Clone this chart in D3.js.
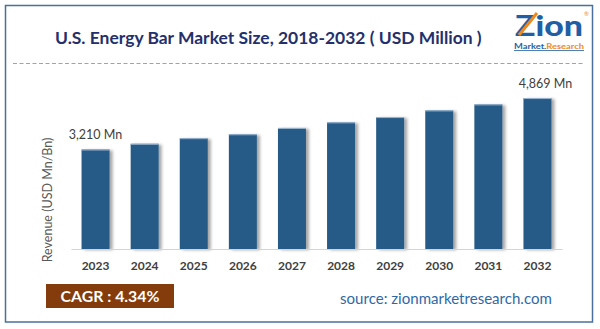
<!DOCTYPE html>
<html>
<head>
<meta charset="utf-8">
<script src="https://cdn.jsdelivr.net/npm/d3@7"></script>
<style>
  body { margin: 0; background: #fff; }
  text { font-family: Lato, "Open Sans", sans-serif; }
</style>
</head>
<body>
<svg></svg>
<script>
// market size by year, USD million
const years = ["2023", "2024", "2025", "2026", "2027", "2028", "2029", "2030", "2031", "2032"];
const revenue = [3210, 3394, 3575, 3701, 3905, 4086, 4256, 4471, 4665, 4869];
const labelled = ["2023", "2032"];

const title = "U.S. Energy Bar Market Size, 2018-2032 ( USD Million )";
const yTitle = "Revenue (USD Mn/Bn)";
const cagr = "CAGR :  4.34%";
const source = "source: zionmarketresearch.com";

var w = 600;
var h = 329;

let data = years.map((y, i) => ({ year: y, value: revenue[i] }));

let svg = d3.select("svg")
  .attr("width", w)
  .attr("height", h);

svg.append("rect")
  .attr("width", w).attr("height", h)
  .attr("fill", "#fff");

// soft shadow to the right of each bar
let defs = svg.append("defs");
let shadow = defs.append("filter")
  .attr("id", "barShadow")
  .attr("x", "-20%").attr("y", "-10%")
  .attr("width", "160%").attr("height", "130%");
shadow.append("feDropShadow")
  .attr("dx", 3).attr("dy", 1)
  .attr("stdDeviation", 1.6)
  .attr("flood-color", "#000")
  .attr("flood-opacity", 0.35);

// frame
svg.append("rect")
  .attr("x", 5.5).attr("y", 5.5)
  .attr("width", 587).attr("height", 316.5)
  .attr("fill", "none")
  .attr("stroke", "#4a6f9c")
  .attr("stroke-width", 1.5);

// scale a text's font size until it spans the given width
function fitWidth(sel, width) {
  let node = sel.node();
  let fs = parseFloat(sel.attr("font-size"));
  let len = node.getComputedTextLength();
  if (len > 0) sel.attr("font-size", (fs * width / len).toFixed(2));
}

let titleText = svg.append("text")
  .attr("x", 55).attr("y", 44)
  .attr("font-size", 18)
  .attr("font-weight", "bold")
  .attr("fill", "#23306b")
  .text(title);
fitWidth(titleText, 427);

svg.append("line")
  .attr("x1", 13).attr("x2", 585)
  .attr("y1", 63.5).attr("y2", 63.5)
  .attr("stroke", "#8aa6d4")
  .attr("stroke-width", 1)
  .attr("stroke-dasharray", "4,2.5");

// logo
let logo = svg.append("g");
logo.append("text")
  .attr("x", 515).attr("y", 36)
  .attr("font-size", 29)
  .attr("font-weight", 900)
  .attr("fill", "#1f5fa6")
  .attr("textLength", 68)
  .attr("lengthAdjust", "spacingAndGlyphs")
  .text("Zion");
logo.append("line")
  .attr("x1", 519).attr("y1", 35)
  .attr("x2", 537).attr("y2", 13)
  .attr("stroke", "#f08a1c")
  .attr("stroke-width", 3);
logo.append("text")
  .attr("x", 584).attr("y", 16)
  .attr("font-size", 6)
  .attr("fill", "#f08a1c")
  .text("\u00AE");
let mr = logo.append("text")
  .attr("x", 514).attr("y", 49)
  .attr("font-size", 7.5)
  .attr("font-weight", "bold")
  .attr("textLength", 70)
  .attr("lengthAdjust", "spacingAndGlyphs");
mr.append("tspan").attr("fill", "#1f5fa6").text("Market.");
mr.append("tspan").attr("fill", "#f08a1c").text("Research");
logo.append("line")
  .attr("x1", 514).attr("x2", 584)
  .attr("y1", 50.5).attr("y2", 50.5)
  .attr("stroke", "#1f5fa6")
  .attr("stroke-width", 0.8);

// bars
let xScale = d3.scaleBand()
  .domain(years)
  .range([71, 562])
  .paddingInner(0.43)
  .paddingOuter(0.215);

let yScale = d3.scaleLinear()
  .domain([0, 5000])
  .range([249, 94]);

let g = svg.append("g");

g.selectAll("rect.bar")
  .data(data)
  .enter()
  .append("rect")
  .attr("class", "bar")
  .attr("x", d => xScale(d.year))
  .attr("y", d => yScale(d.value))
  .attr("width", xScale.bandwidth())
  .attr("height", d => yScale(0) - yScale(d.value))
  .attr("fill", "#265a87")
  .attr("filter", "url(#barShadow)");

// light edge along the top of each bar
g.selectAll("line.edge")
  .data(data)
  .enter()
  .append("line")
  .attr("class", "edge")
  .attr("x1", d => xScale(d.year))
  .attr("x2", d => xScale(d.year) + xScale.bandwidth())
  .attr("y1", d => yScale(d.value) + 0.5)
  .attr("y2", d => yScale(d.value) + 0.5)
  .attr("stroke", "#9fb8d2")
  .attr("stroke-width", 1);

// baseline + year labels
let xAxis = d3.axisBottom(xScale).tickSize(0).tickPadding(12);
let xAxisG = g.append("g")
  .attr("transform", `translate(0,${yScale(0)})`)
  .call(xAxis);
xAxisG.select(".domain")
  .attr("stroke", "#d4d4d4")
  .attr("stroke-width", 1.2);
xAxisG.selectAll(".tick text")
  .attr("font-family", "Lato, sans-serif")
  .attr("font-size", 12)
  .attr("font-weight", "bold")
  .attr("fill", "#404040");

// value labels on the first and last bar
g.selectAll("text.value")
  .data(data.filter(d => labelled.includes(d.year)))
  .enter()
  .append("text")
  .attr("class", "value")
  .attr("x", (d, i) => xScale(d.year) + xScale.bandwidth() / 2 + (i == 1 ? 8 : 0))
  .attr("y", d => yScale(d.value) - 10)
  .attr("text-anchor", "middle")
  .attr("font-size", 12.5)
  .attr("fill", "#404040")
  .text(d => d3.format(",")(d.value) + " Mn");

svg.append("text")
  .attr("transform", "translate(52,200)rotate(-90)")
  .attr("text-anchor", "middle")
  .attr("font-size", 12.5)
  .attr("fill", "#595959")
  .text(yTitle);

// CAGR badge
svg.append("rect")
  .attr("x", 46).attr("y", 284)
  .attr("width", 128).attr("height", 24)
  .attr("fill", "#843c0c");
let cagrText = svg.append("text")
  .attr("x", 110).attr("y", 301.5)
  .attr("text-anchor", "middle")
  .attr("font-size", 15)
  .attr("font-weight", "bold")
  .attr("fill", "#fff")
  .text(cagr);
fitWidth(cagrText, 99);

let srcText = svg.append("text")
  .attr("x", 340).attr("y", 304)
  .attr("font-size", 15)
  .attr("fill", "#2f69a5")
  .text(source);
fitWidth(srcText, 212);
</script>
</body>
</html>
